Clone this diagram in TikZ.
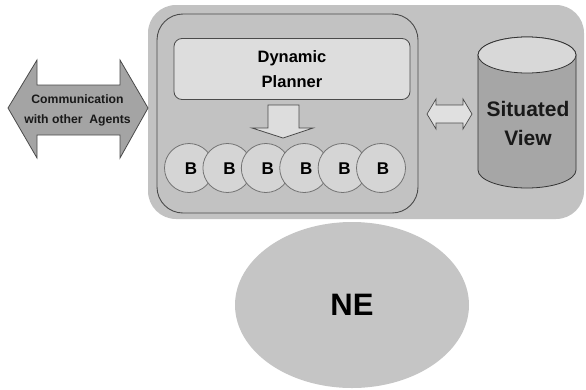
\documentclass[tikz,border=0pt]{standalone}
\usepackage{fontspec}
\setmainfont{Liberation Sans}
\usetikzlibrary{shapes.geometric}
\definecolor{panel}{HTML}{C2C2C2}
\definecolor{planfill}{HTML}{DDDDDD}
\definecolor{bfill}{HTML}{D5D5D5}
\definecolor{commfill}{HTML}{A4A4A4}
\definecolor{cylbody}{HTML}{A6A6A6}
\definecolor{cyltop}{HTML}{D8D8D8}
\definecolor{nefill}{HTML}{C5C5C5}
\definecolor{edge}{HTML}{4A4A4A}
\tikzset{
  x=1pt, y=-1pt,
  panelbox/.style={fill=panel, draw=none, rounded corners=28pt, inner sep=0pt},
  innerbox/.style={fill=panel, draw=edge, line width=0.9pt, rounded corners=26pt, inner sep=0pt},
  planbox/.style={fill=planfill, draw=edge, line width=0.8pt, rounded corners=8pt, inner sep=0pt,
    font=\bfseries\fontsize{16.5}{25}\selectfont, align=center},
  bcircle/.style={circle, fill=bfill, draw=gray!90!black, line width=0.8pt, minimum size=49pt, inner sep=0pt},
  blabel/.style={font=\bfseries\fontsize{17}{17}\selectfont},
  blockarrow/.style={draw=edge, line width=0.8pt, line join=miter},
  labeltext/.style={font=\bfseries, align=center, text=black!90},
}
\begin{document}
\begin{tikzpicture}
\useasboundingbox (0,0) rectangle (586,389);

% agent panel and behaviour module
\node[panelbox, minimum width=436pt, minimum height=214pt] (agent) at (366,112) {};
\node[innerbox, minimum width=261pt, minimum height=199pt] (module) at (287.5,113.5) {};
\node[planbox, minimum width=236pt, minimum height=61pt] (planner) at (292,69) {Dynamic\\Planner};

% arrow from planner down to the behaviours
\filldraw[blockarrow, fill=planfill]
  (268,105) -- (299,105) -- (299,128) -- (313,128) -- (283,138) -- (252,128) -- (268,128) -- cycle;

% behaviours, each overlapping the previous one
\foreach \i in {0,...,5} {
  \node[bcircle] (b\i) at ({189+38.4*\i},168) {};
  \node[blabel] (bl\i) at ({191+38.4*\i},169) {B};
}

% communication double arrow
\filldraw[blockarrow, fill=commfill]
  (8,108) -- (37,60) -- (37,85) -- (120,85) -- (120,60) -- (148,108)
  -- (120,158) -- (120,135) -- (37,135) -- (37,158) -- cycle;
\node[labeltext, font=\bfseries\fontsize{12.2}{20}\selectfont] (comm) at (77.5,110)
  {Communication\\with other\ \ Agents};

% link between module and situated view
\filldraw[blockarrow, fill=cyltop!80!white, line width=0.7pt]
  (427,114) -- (436,99) -- (436,105) -- (463,105) -- (463,99) -- (472,114)
  -- (463,129) -- (463,123) -- (436,123) -- (436,129) -- cycle;

% situated view store
\filldraw[fill=cylbody, draw=black!80, line width=0.8pt]
  (478,55) -- (478,170) arc[start angle=180, end angle=360, x radius=49pt, y radius=18pt]
  -- (576,55) arc[start angle=0, end angle=180, x radius=49pt, y radius=18pt] -- cycle;
\filldraw[fill=cyltop, draw=black!80, line width=0.8pt]
  (527,55) ellipse[x radius=49pt, y radius=18pt];
\node[labeltext, font=\bfseries\fontsize{21}{29}\selectfont] (view) at (528,123) {Situated\\View};

% environment
\node[ellipse, fill=nefill, minimum width=234pt, minimum height=166pt, inner sep=0pt,
  font=\bfseries\fontsize{31}{31}\selectfont] (ne) at (352,305) {NE};
\end{tikzpicture}
\end{document}
